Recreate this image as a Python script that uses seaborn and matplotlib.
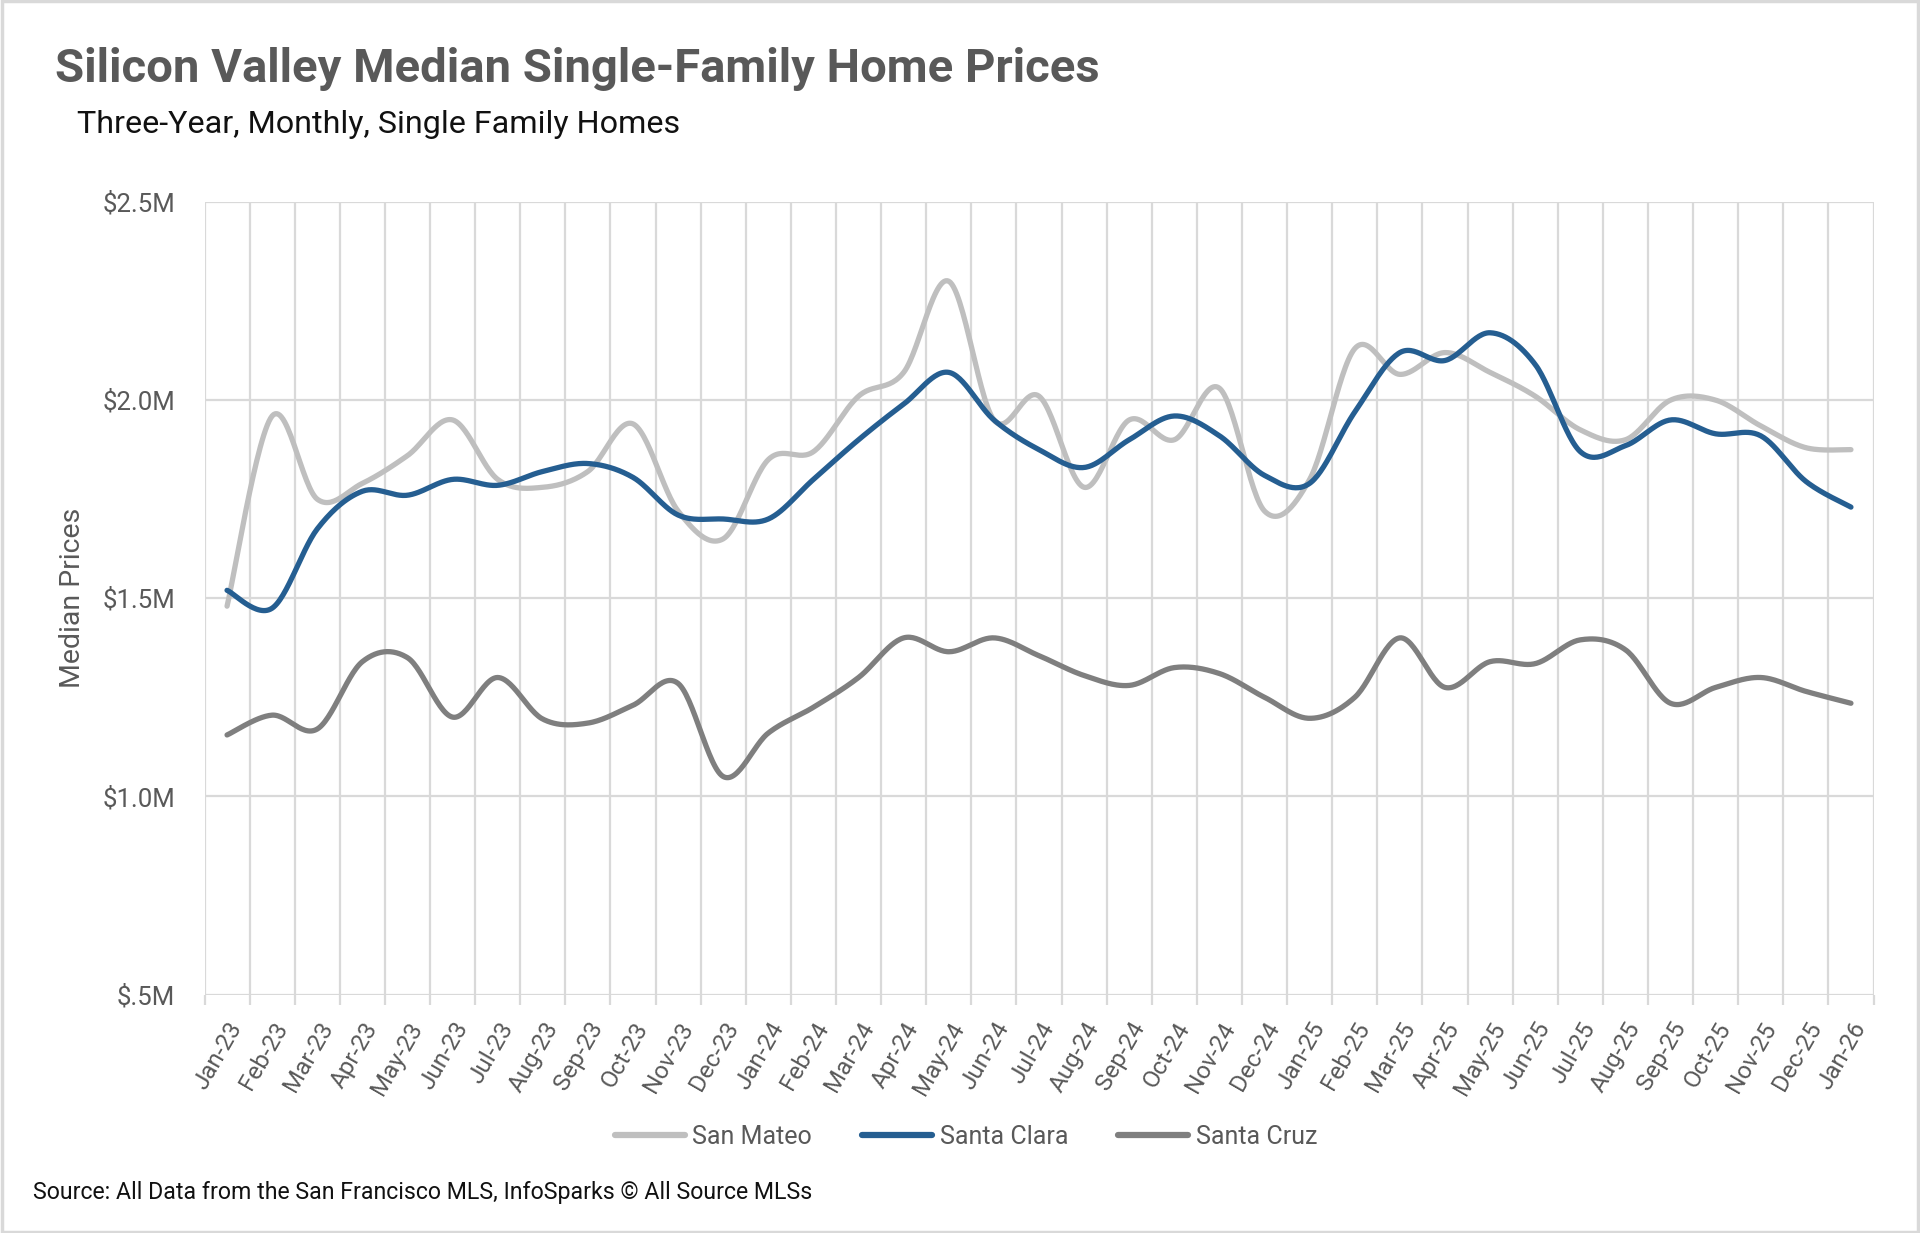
import numpy as np
import pandas as pd
import matplotlib
matplotlib.use("Agg")
import matplotlib.pyplot as plt
import seaborn as sns
from matplotlib.patches import Rectangle
from matplotlib.ticker import FixedLocator

# ---------------- data (values in $ millions) ----------------
months = ["Jan-23", "Feb-23", "Mar-23", "Apr-23", "May-23", "Jun-23", "Jul-23", "Aug-23",
          "Sep-23", "Oct-23", "Nov-23", "Dec-23", "Jan-24", "Feb-24", "Mar-24", "Apr-24",
          "May-24", "Jun-24", "Jul-24", "Aug-24", "Sep-24", "Oct-24", "Nov-24", "Dec-24",
          "Jan-25", "Feb-25", "Mar-25", "Apr-25", "May-25", "Jun-25", "Jul-25", "Aug-25",
          "Sep-25", "Oct-25", "Nov-25", "Dec-25", "Jan-26"]

san_mateo = [1.48, 1.96, 1.75, 1.79, 1.86, 1.95, 1.80, 1.78, 1.82, 1.94, 1.72, 1.65,
             1.85, 1.87, 2.01, 2.07, 2.30, 1.95, 2.01, 1.78, 1.95, 1.90, 2.03, 1.72,
             1.80, 2.13, 2.065, 2.12, 2.07, 2.01, 1.925, 1.90, 2.00, 2.00, 1.935, 1.88,
             1.875]

santa_clara = [1.52, 1.475, 1.675, 1.77, 1.76, 1.80, 1.785, 1.82, 1.84, 1.805, 1.71, 1.70,
               1.70, 1.80, 1.90, 1.99, 2.07, 1.95, 1.875, 1.83, 1.90, 1.96, 1.91, 1.81,
               1.79, 1.97, 2.12, 2.10, 2.17, 2.09, 1.87, 1.885, 1.95, 1.915, 1.91, 1.795,
               1.73]

santa_cruz = [1.155, 1.205, 1.17, 1.34, 1.35, 1.20, 1.30, 1.195, 1.185, 1.23, 1.285, 1.05,
              1.16, 1.225, 1.30, 1.40, 1.365, 1.40, 1.355, 1.305, 1.28, 1.325, 1.31, 1.25,
              1.197, 1.25, 1.40, 1.275, 1.34, 1.335, 1.395, 1.37, 1.235, 1.275, 1.30, 1.265,
              1.235]

series_names = ["San Mateo", "Santa Clara", "Santa Cruz"]
series_values = [san_mateo, santa_clara, santa_cruz]
series_colors = ["#BFBFBF", "#255E91", "#7F7F7F"]

y_ticks = [0.5, 1.0, 1.5, 2.0, 2.5]
y_tick_labels = ["$.5M", "$1.0M", "$1.5M", "$2.0M", "$2.5M"]

title = "Silicon Valley Median Single-Family Home Prices"
subtitle = "Three-Year, Monthly, Single Family Homes"
y_label = "Median Prices"
source = "Source: All Data from the San Francisco MLS, InfoSparks \u00a9 All Source MLSs"


# ---------------- smoothing (Excel-style Bezier through points) ----------------
def smooth_curve(vals, n=30):
    y = np.asarray(vals, float)
    x = np.arange(len(y), dtype=float)
    P = np.column_stack([x, y])
    Pe = np.vstack([P[0], P, P[-1]])
    xs, ys = [], []
    t = np.linspace(0, 1, n)[:, None]
    for i in range(len(P) - 1):
        p0 = Pe[i + 1]
        p3 = Pe[i + 2]
        c1 = p0 + (Pe[i + 2] - Pe[i]) / 6.0
        c2 = p3 - (Pe[i + 3] - Pe[i + 1]) / 6.0
        pts = ((1 - t) ** 3) * p0 + 3 * ((1 - t) ** 2) * t * c1 + 3 * (1 - t) * t ** 2 * c2 + t ** 3 * p3
        if i > 0:
            pts = pts[1:]
        xs.append(pts[:, 0])
        ys.append(pts[:, 1])
    return np.concatenate(xs), np.concatenate(ys)


frames = []
for name, vals in zip(series_names, series_values):
    sx, sy = smooth_curve(vals)
    frames.append(pd.DataFrame({"x": sx, "value": sy, "region": name}))
df = pd.concat(frames, ignore_index=True)

# ---------------- style ----------------
sns.set_theme(style="white")
plt.rcParams["font.family"] = ["Roboto", "DejaVu Sans"]

W, H = 1920, 1233
fig = plt.figure(figsize=(W / 100, H / 100), dpi=100)
fig.patch.set_facecolor("white")
ax = fig.add_axes([204.5 / W, 1 - 994.5 / H, (1873.5 - 204.5) / W, (994.5 - 202) / H])

sns.lineplot(data=df, x="x", y="value", hue="region", hue_order=series_names,
             palette=dict(zip(series_names, series_colors)), sort=False,
             estimator=None, linewidth=3.8, ax=ax)

grid_c = "#D9D9D9"
ax.set_xlim(-0.5, len(months) - 0.5)
ax.set_ylim(0.5, 2.5)
ax.set_yticks(y_ticks)
ax.set_yticklabels(y_tick_labels)
ax.set_xticks(np.arange(len(months)))
ax.set_xticklabels(months, rotation=60, ha="right", rotation_mode="anchor")
ax.xaxis.set_minor_locator(FixedLocator(np.arange(len(months) + 1) - 0.5))
ax.grid(False)
ax.grid(axis="x", which="minor", color=grid_c, linewidth=1.6)
ax.grid(axis="y", which="major", color=grid_c, linewidth=1.6)
ax.set_axisbelow(True)
for s in ax.spines.values():
    s.set_visible(False)

ax.tick_params(axis="x", which="major", length=0, pad=17, labelsize=17.5, labelcolor="#595959")
ax.tick_params(axis="x", which="minor", length=7, width=1.6, color=grid_c, direction="out", bottom=True)
ax.tick_params(axis="y", which="major", length=0, pad=21, labelsize=18.5, labelcolor="#595959")

ax.set_xlabel("")
ax.set_ylabel(y_label, fontsize=20.5, color="#595959")
ax.yaxis.set_label_coords((86 - 204.5) / (1873.5 - 204.5), 0.5)

leg = ax.legend(frameon=False, ncol=3, loc="center",
                bbox_to_anchor=(966 / W, 1 - 1137 / H), bbox_transform=fig.transFigure,
                fontsize=18, handlelength=2.8, handletextpad=0.3, columnspacing=2.0)
for line in leg.get_lines():
    line.set_linewidth(4.5)
for txt in leg.get_texts():
    txt.set_color("#595959")

fig.text(55 / W, 1 - 82 / H, title, fontsize=34, fontweight="bold", color="#595959",
         va="baseline", ha="left", family=["Liberation Sans Narrow", "Roboto", "DejaVu Sans"])
fig.text(77 / W, 1 - 133 / H, subtitle, fontsize=23.2, color="#111111", va="baseline", ha="left")
fig.text(33 / W, 1 - 1199 / H, source, fontsize=16.7, color="#111111", va="baseline", ha="left")

fig.patches.append(Rectangle((0.001, 0.001), 0.998, 0.998, transform=fig.transFigure,
                             fill=False, edgecolor="#D9D9D9", linewidth=2.5))

fig.savefig("out.png", dpi=100, facecolor="white")
